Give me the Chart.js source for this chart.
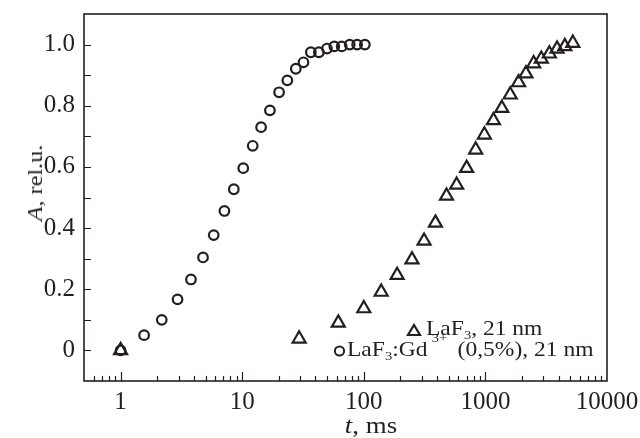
<!DOCTYPE html>
<html>
<head>
<meta charset="utf-8">
<script src="https://cdn.jsdelivr.net/npm/chart.js@4.4.0/dist/chart.umd.min.js"></script>
<style>
  html, body { margin: 0; padding: 0; background: #fff; }
  #wrap { position: relative; width: 640px; height: 438px; overflow: hidden; }
  #c { position: absolute; left: 0; top: 0; }
  .txt { position: absolute; font-family: "Liberation Serif", "Times New Roman", serif; color: #231f20; white-space: nowrap; line-height: 1; }
  .txt i { font-style: italic; }
  .txt sub { font-size: 0.62em; vertical-align: baseline; position: relative; top: 0.28em; }
  .txt sup { font-size: 0.62em; vertical-align: baseline; position: relative; top: -1.05em; margin-left: 0.3em; margin-right: 0.3em; }
  #ytitle { left: 35px; top: 183px; font-size: 22px; transform: translate(-50%, -50%) rotate(-90deg) scaleX(1.1); }
  #xtitle { left: 371px; top: 425px; font-size: 24px; transform: translate(-50%, -50%) scaleX(1.12); }
  .leg { font-size: 21px; transform-origin: 0 0; transform: scaleX(1.12); }
  #leg1 { left: 426px; top: 318px; }
  #leg2 { left: 347px; top: 339px; }
  .mk { position: absolute; }
</style>
</head>
<body>
<div id="wrap">
  <canvas id="c" width="640" height="438"></canvas>
  <div class="txt" id="ytitle"><i>A</i>, rel.u.</div>
  <div class="txt" id="xtitle"><i>t</i>, ms</div>
  <svg class="mk" style="left:406px;top:323px" width="16" height="14"><polygon points="8,2 14,12 2,12" fill="none" stroke="#231f20" stroke-width="2.2"/></svg>
  <svg class="mk" style="left:333px;top:344px" width="14" height="14"><circle cx="6.5" cy="7" r="4.6" fill="none" stroke="#231f20" stroke-width="2"/></svg>
  <div class="txt leg" id="leg1">LaF<sub>3</sub>, 21 nm</div>
  <div class="txt leg" id="leg2">LaF<sub>3</sub>:Gd<sup>3+</sup> (0,5%), 21 nm</div>
</div>
<script>
// LaF3, 21 nm (треугольники)
const laTime = [1, 29.4, 61.7, 100, 139, 188, 249, 313, 388, 479, 580, 701, 832, 981,
  1165, 1365, 1600, 1875, 2153, 2494, 2884, 3357, 3881, 4497, 5236];
const laA = [0, 0.038, 0.09, 0.137, 0.191, 0.246, 0.297, 0.358, 0.417, 0.505, 0.541, 0.596, 0.656, 0.705,
  0.752, 0.792, 0.836, 0.876, 0.905, 0.938, 0.953, 0.970, 0.986, 0.994, 1.005];

// LaF3:Gd3+ (0,5%), 21 nm (кружки)
const gdTime = [1, 1.56, 2.18, 2.94, 3.79, 4.76, 5.83, 7.14, 8.53, 10.2, 12.2, 14.3, 16.9, 20.1,
  23.5, 27.6, 31.9, 36.7, 42.7, 49.8, 57.2, 65.8, 76.6, 88.1, 102];
const gdA = [0, 0.05, 0.10, 0.167, 0.232, 0.304, 0.377, 0.456, 0.527, 0.596, 0.669, 0.730, 0.785, 0.844,
  0.883, 0.921, 0.942, 0.975, 0.975, 0.987, 0.994, 0.994, 1.0, 1.0, 1.0];

const xTicks = [1, 10, 100, 1000, 10000];
const yTicks = [0, 0.2, 0.4, 0.6, 0.8, 1.0];
const yMinorTicks = [0, 0.1, 0.2, 0.3, 0.4, 0.5, 0.6, 0.7, 0.8, 0.9, 1.0];

const ink = '#231f20';

// рамка и внутренние засечки
const frameTicks = {
  id: 'frameTicks',
  afterDraw(chart) {
    const { ctx, chartArea: a, scales: { x, y } } = chart;
    ctx.save();
    ctx.strokeStyle = ink;
    ctx.lineWidth = 1.6;
    ctx.strokeRect(a.left, a.top, a.right - a.left, a.bottom - a.top);

    ctx.lineWidth = 1.2;
    ctx.beginPath();
    yMinorTicks.forEach(v => {
      const py = Math.round(y.getPixelForValue(v)) + 0.5;
      ctx.moveTo(a.left, py);
      ctx.lineTo(a.left + 7, py);
    });
    for (let dec = 0.1; dec < 10000; dec *= 10) {
      for (let k = 1; k <= 9; k++) {
        const v = dec * k;
        if (v <= x.min || v >= x.max) continue;
        const px = Math.round(x.getPixelForValue(v)) + 0.5;
        const len = k === 1 ? 9 : 5;
        ctx.moveTo(px, a.bottom);
        ctx.lineTo(px, a.bottom - len);
      }
    }
    ctx.stroke();
    ctx.restore();
  }
};

const tickFont = { family: 'Liberation Serif', size: 25 };

new Chart(document.getElementById('c').getContext('2d'), {
  type: 'scatter',
  data: {
    datasets: [
      {
        label: 'LaF3, 21 nm',
        data: laTime.map((t, i) => ({ x: t, y: laA[i] })),
        pointStyle: 'triangle',
        pointRadius: 7.5,
        borderColor: ink,
        borderWidth: 2.2,
        backgroundColor: 'rgba(0,0,0,0)'
      },
      {
        label: 'LaF3:Gd3+ (0,5%), 21 nm',
        data: gdTime.map((t, i) => ({ x: t, y: gdA[i] })),
        pointStyle: 'circle',
        pointRadius: 4.8,
        borderColor: ink,
        borderWidth: 2.2,
        backgroundColor: 'rgba(0,0,0,0)'
      }
    ]
  },
  options: {
    responsive: false,
    animation: false,
    layout: { padding: { top: 14, right: 33, left: 0, bottom: 0 } },
    plugins: { legend: { display: false }, tooltip: { enabled: false } },
    scales: {
      x: {
        type: 'logarithmic',
        min: 0.5,
        max: 10000,
        grid: { display: false, drawTicks: false },
        border: { display: false },
        afterBuildTicks: s => { s.ticks = xTicks.map(v => ({ value: v })); },
        afterFit: s => { s.height = 57; s.paddingLeft = 0; s.paddingRight = 0; },
        ticks: {
          font: tickFont,
          color: ink,
          padding: 6,
          autoSkip: false,
          maxRotation: 0,
          callback: v => String(v)
        }
      },
      y: {
        min: -0.1,
        max: 1.1,
        grid: { display: false, drawTicks: false },
        border: { display: false },
        afterBuildTicks: s => { s.ticks = yTicks.map(v => ({ value: v })); },
        afterFit: s => { s.width = 84; s.paddingTop = 0; s.paddingBottom = 0; },
        ticks: {
          font: tickFont,
          color: ink,
          padding: 9,
          callback: v => v === 0 ? '0' : v.toFixed(1)
        }
      }
    }
  },
  plugins: [frameTicks]
});
</script>
</body>
</html>
